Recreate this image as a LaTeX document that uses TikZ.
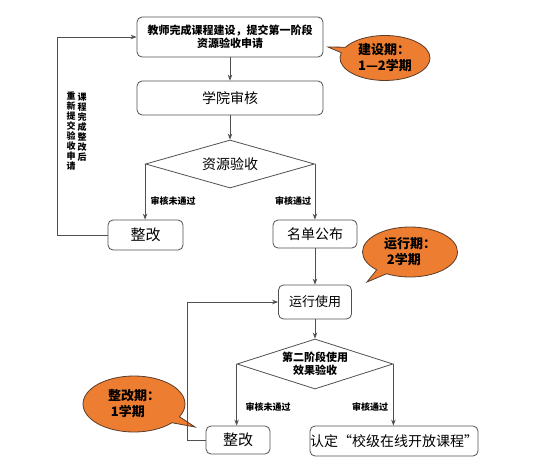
\documentclass[tikz,border=0pt]{standalone}
\usepackage{fontspec}
\setmainfont{Noto Sans CJK SC}
\usetikzlibrary{shapes.geometric,shapes.callouts,arrows.meta}
\definecolor{lineg}{RGB}{80,80,80}
\definecolor{orfill}{RGB}{237,125,49}
\definecolor{ordraw}{RGB}{90,60,40}
\tikzset{
  box/.style={draw=lineg, line width=0.8pt, rounded corners=5pt, fill=white, inner sep=0pt, align=center},
  dia/.style={draw=lineg, line width=0.8pt, diamond, inner sep=0pt, align=center},
  arr/.style={draw=lineg, line width=0.8pt, -{Stealth[length=6pt,width=4.5pt]}},
  lab/.style={font=\fontsize{9}{10}\selectfont\bfseries, inner sep=0pt},
  vtext/.style={font=\fontsize{9}{10}\selectfont\bfseries, inner sep=0pt, align=center},
  call/.style={ellipse callout, draw=ordraw, line width=0.8pt, fill=orfill, inner sep=0pt, align=left, font=\fontsize{13}{16}\selectfont\bfseries}
}
\begin{document}
\begin{tikzpicture}[x=1pt,y=-1pt]
\useasboundingbox (0,0) rectangle (553,468);
% nodes
\node[box, minimum width=186pt, minimum height=40pt, font=\fontsize{11}{13}\selectfont\bfseries] (b1) at (230,37) {教师完成课程建设，提交第一阶段\\资源验收申请};
\node[box, minimum width=186pt, minimum height=34pt, font=\fontsize{14}{16}\selectfont] (b2) at (230,98) {学院审核};
\node[dia, shape aspect=3.5, minimum width=169pt, minimum height=48pt, font=\fontsize{14}{16}\selectfont] (d1) at (230,164) {资源验收};
\node[box, minimum width=75pt, minimum height=30pt, font=\fontsize{15}{17}\selectfont] (z1) at (145.5,235) {整改};
\node[box, minimum width=84pt, minimum height=28pt, font=\fontsize{14}{16}\selectfont] (m1) at (315,234) {名单公布};
\node[box, minimum width=73pt, minimum height=34pt, font=\fontsize{13}{15}\selectfont] (y1) at (315,302) {运行使用};
\node[dia, shape aspect=3.1, minimum width=156pt, minimum height=50pt, font=\fontsize{11}{13}\selectfont\bfseries] (d2) at (315,364) {第二阶段使用\\效果验收};
\node[box, minimum width=64pt, minimum height=28pt, font=\fontsize{15}{17}\selectfont] (z2) at (238,440) {整改};
\node[box, minimum width=158pt, minimum height=30pt, font=\fontsize{14}{16}\selectfont] (r1) at (394,441) {认定“校级在线开放课程”};
% callouts
\coordinate (p1) at (328,47);
\coordinate (p2) at (367,282);
\coordinate (p3) at (195,427);
\node[call, minimum width=90pt, minimum height=45pt, callout absolute pointer={(p1)}] (c1) at (385,58) {建设期：\\1—2学期};
\node[call, minimum width=95pt, minimum height=50pt, callout absolute pointer={(p2)}] (c2) at (410,252) {运行期：\\\ 2学期};
\node[call, minimum width=102pt, minimum height=56pt, callout absolute pointer={(p3)}] (c3) at (134,404) {整改期：\\\ 1学期};
% connectors
\draw[arr] (b1) -- (b2);
\draw[arr] (b2) -- (d1);
\draw[arr] (d1.west) -- (d1.west |- z1.north);
\draw[arr] (d1.east) -- (d1.east |- m1.north);
\draw[arr] (z1.west) -- ++(-50,0) |- (b1.west);
\draw[arr] (m1) -- (y1);
\draw[arr] (y1) -- (d2);
\draw[arr] (d2.west) -- (d2.west |- z2.north);
\draw[arr] (d2.east) -- (d2.east |- r1.north);
\draw[arr] (z2.west) -- ++(-18,0) |- (y1.west);
% labels
\node[lab] (l1) at (173,201) {审核未通过};
\node[lab] (l2) at (293,201) {审核通过};
\node[lab] (l3) at (268,407) {审核未通过};
\node[lab] (l4) at (370,407) {审核通过};
\node[vtext] (v1) at (82,127) {课\\程\\完\\成\\整\\改\\后};
\node[vtext] (v2) at (71,131) {重\\新\\提\\交\\验\\收\\申\\请};
\end{tikzpicture}
\end{document}
